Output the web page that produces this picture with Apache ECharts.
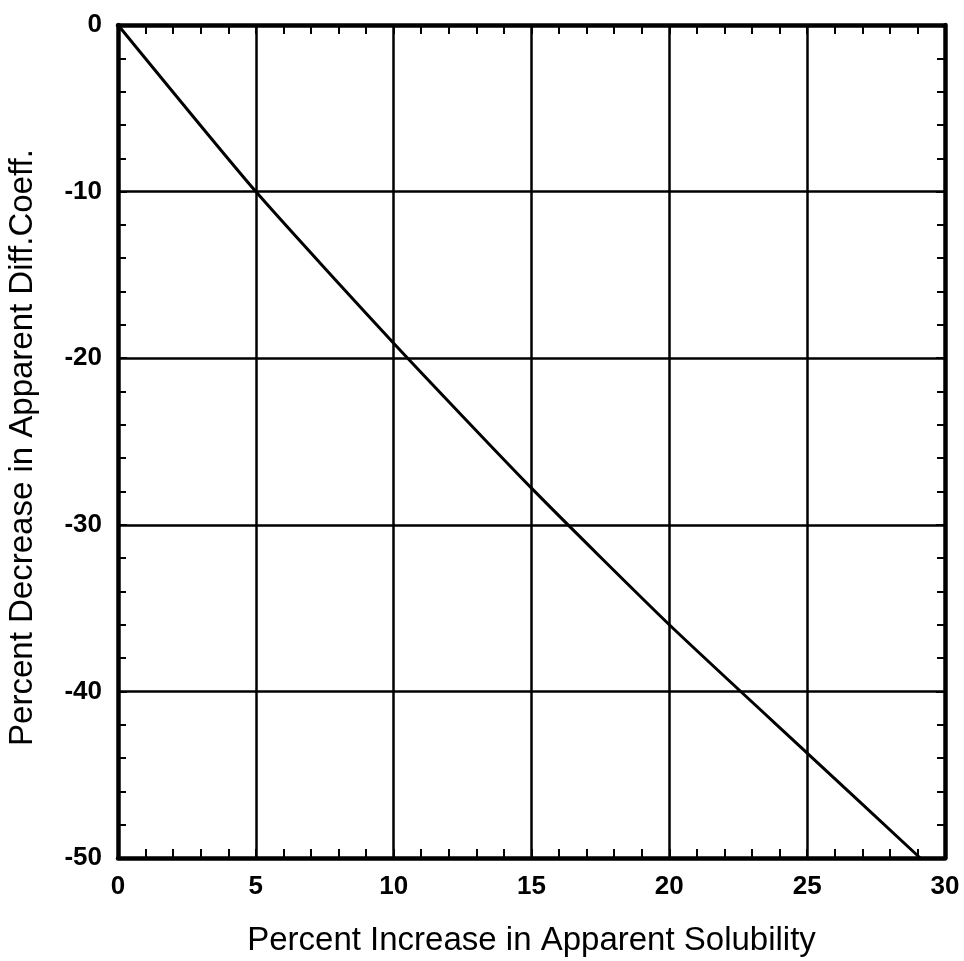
<!DOCTYPE html>
<html>
<head>
<meta charset="utf-8">
<script src="https://cdn.jsdelivr.net/npm/echarts@6/dist/echarts.min.js"></script>
<style>
  html, body { margin: 0; padding: 0; background: #fff; }
  #chart { width: 964px; height: 961px; }
</style>
</head>
<body>
<div id="chart"></div>
<script>
// Solubility increase (%) vs. apparent diffusion-coefficient decrease (%)
const solubilityIncrease = [0, 5, 10, 15, 20, 25, 29.1];
const diffCoeffDecrease = [0, -10, -19.1, -27.8, -36.0, -43.7, -50];

const xTickLabels = ['0', '5', '10', '15', '20', '25', '30'];
const yTickLabels = ['-50', '-40', '-30', '-20', '-10', '0'];

const FONT = '"Liberation Sans", Arial, Helvetica, sans-serif';
const INK = '#000';

const points = solubilityIncrease.map((x, i) => [x, diffCoeffDecrease[i]]);

function frameAxis(extra) {
  return Object.assign({
    type: 'value',
    axisLine: { show: true, onZero: false, lineStyle: { color: INK, width: 4.5 } },
    axisTick: { show: true, inside: true, length: 9, lineStyle: { color: INK, width: 2 } },
    splitLine: { show: false },
    axisLabel: { show: false }
  }, extra);
}

const chart = echarts.init(document.getElementById('chart'), null, { renderer: 'canvas' });
chart.setOption({
  animation: false,
  backgroundColor: '#fff',
  grid: {
    left: 118, right: 19, top: 25, bottom: 103,
    containLabel: false,
    outerBoundsMode: 'none'
  },
  xAxis: [
    frameAxis({
      position: 'bottom', min: 0, max: 30, interval: 5,
      minorTick: { show: true, splitNumber: 5, length: 9, lineStyle: { color: INK, width: 2 } },
      splitLine: { show: true, lineStyle: { color: INK, width: 2.5 } },
      axisLabel: {
        show: true, margin: 16, color: INK, fontSize: 26, fontWeight: 'bold', fontFamily: FONT,
        formatter: v => xTickLabels[Math.round(v / 5)]
      },
      name: 'Percent Increase in Apparent Solubility',
      nameLocation: 'middle', nameGap: 66,
      nameTextStyle: { color: INK, fontSize: 33, fontFamily: FONT }
    }),
    frameAxis({
      position: 'top', min: 0, max: 30, interval: 5,
      minorTick: { show: true, splitNumber: 5, length: 9, lineStyle: { color: INK, width: 2 } }
    })
  ],
  yAxis: [
    frameAxis({
      position: 'left', min: -50, max: 0, interval: 10,
      minorTick: { show: true, splitNumber: 5, length: 8, lineStyle: { color: INK, width: 2 } },
      splitLine: { show: true, lineStyle: { color: INK, width: 2.5 } },
      axisLabel: {
        show: true, margin: 16, color: INK, fontSize: 26, fontWeight: 'bold', fontFamily: FONT,
        formatter: v => yTickLabels[Math.round((v + 50) / 10)]
      },
      name: 'Percent Decrease in Apparent Diff.Coeff.',
      nameLocation: 'middle', nameGap: 79,
      nameTextStyle: { color: INK, fontSize: 33, fontFamily: FONT, padding: [0, 12, 0, 0] }
    }),
    frameAxis({
      position: 'right', min: -50, max: 0, interval: 10,
      minorTick: { show: true, splitNumber: 5, length: 8, lineStyle: { color: INK, width: 2 } }
    })
  ],
  series: [{
    type: 'line',
    data: points,
    xAxisIndex: 0,
    yAxisIndex: 0,
    showSymbol: false,
    smooth: 0.2,
    lineStyle: { color: INK, width: 3 },
    z: 5
  }]
});
</script>
</body>
</html>
